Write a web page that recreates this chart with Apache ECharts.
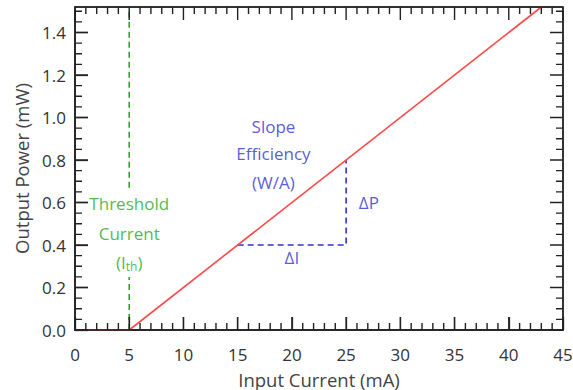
<!DOCTYPE html>
<html><head><meta charset="utf-8">
<script src="https://cdn.jsdelivr.net/npm/echarts@6/dist/echarts.min.js"></script>
<style>html,body{margin:0;padding:0;background:#fff}#c{width:573px;height:390px}</style>
</head><body><div id="c"></div>
<script>
// Data
const curveX = [0, 5, 43];
const curveY = [0, 0, 1.52];
const thresholdX = 5;
const thresholdLowY = [0, 0.25];
const thresholdHighY = [0.67, 1.52];
const deltaX = [15, 25, 25];
const deltaY = [0.4, 0.4, 0.8];
const xTicks = [0, 45, 5];      // min, max, major interval
const yTicks = [0, 1.52, 0.2];
const xMinorStep = 1;
const yMinorStep = 0.05;

const FONT = 'Open Sans';
const FS = 17;
const W = 573, H = 390;
const G = {left: 75, right: 10, top: 7, bottom: 60};
const chart = echarts.init(document.getElementById('c'), null, {renderer: 'svg'});
const green = '#22a822', blue = '#3030d0', red = '#ff4a4a', axisCol = '#333';

// tick lengths: pixels converted to axis units via the grid size
const plotW = W - G.left - G.right, plotH = H - G.top - G.bottom;
const uPerPxX = (xTicks[1] - xTicks[0]) / plotW;
const uPerPxY = (yTicks[1] - yTicks[0]) / plotH;
const MAJ = 13, MIN = 7;
const isMajor = (v, step) => Math.abs(v / step - Math.round(v / step)) < 1e-6;

// one short segment per tick, separated by gaps
function xTickPath(edgeY, dir) {
  const pts = [];
  for (let i = 0; i * xMinorStep <= xTicks[1] + 1e-9; i++) {
    const v = +(i * xMinorStep).toFixed(4);
    const L = (isMajor(v, xTicks[2]) ? MAJ : MIN) * uPerPxY * dir;
    pts.push([v, edgeY], [v, edgeY + L], [v, edgeY]);
  }
  return pts;
}
function yTickPath(edgeX, dir) {
  const pts = [];
  for (let i = 0; i * yMinorStep <= yTicks[1] + 1e-9; i++) {
    const v = +(i * yMinorStep).toFixed(4);
    const L = (isMajor(v, yTicks[2]) ? MAJ : MIN) * uPerPxX * dir;
    pts.push([edgeX, v], [edgeX + L, v], [edgeX, v]);
  }
  return pts;
}
const tickSeries = [
  xTickPath(yTicks[0], 1), xTickPath(yTicks[1], -1),
  yTickPath(xTicks[0], 1), yTickPath(xTicks[1], -1)
].map(d => ({type: 'line', data: d, symbol: 'none', showSymbol: false, clip: false, z: 6,
  sampling: null, lineStyle: {color: '#222', width: 1.4, opacity: 1}}));

const labelsSeries = [
  {value: [5, 0.595], text: 'Threshold', color: green},
  {value: [5, 0.455], text: 'Current', color: green},
  {value: [5, 0.32], text: '{p|(I}{s|th}{p|)}', color: green},
  {value: [18.3, 0.96], text: 'Slope', color: blue},
  {value: [18.3, 0.83], text: 'Efficiency', color: blue},
  {value: [18.3, 0.695], text: '(W/A)', color: blue},
  {value: [27.1, 0.6], text: 'ΔP', color: blue},
  {value: [20, 0.34], text: 'ΔI', color: blue}
];
chart.setOption({
  animation: false,
  grid: Object.assign({outerBoundsMode: 'none', containLabel: false,
         show: true, borderColor: axisCol, borderWidth: 1.5, backgroundColor: 'transparent'}, G),
  xAxis: {
    type: 'value', min: xTicks[0], max: xTicks[1], interval: xTicks[2],
    axisLine: {show: true, lineStyle: {color: axisCol, width: 1.5}},
    axisTick: {show: true, inside: true, length: MAJ, lineStyle: {color: axisCol, width: 1.3}},
    minorTick: {show: false}, splitLine: {show: false},
    name: 'Input Current (mA)', nameLocation: 'middle', nameGap: 40,
    nameTextStyle: {fontFamily: FONT, fontSize: 18.5, color: '#444'},
    axisLabel: {fontFamily: FONT, fontSize: FS, color: '#333', margin: 16}
  },
  yAxis: {
    type: 'value', min: yTicks[0], max: yTicks[1], interval: yTicks[2],
    axisLine: {show: true, lineStyle: {color: axisCol, width: 1.5}},
    axisTick: {show: true, inside: true, length: MAJ, lineStyle: {color: axisCol, width: 1.3}},
    minorTick: {show: false}, splitLine: {show: false},
    name: 'Output Power (mW)', nameLocation: 'middle', nameGap: 44,
    nameTextStyle: {fontFamily: FONT, fontSize: 18.5, color: '#444'},
    axisLabel: {fontFamily: FONT, fontSize: FS, color: '#333', margin: 9,
      showMaxLabel: false, formatter: v => v.toFixed(1)}
  },
  series: tickSeries.concat([
    {type: 'line', data: curveX.map((x, i) => [x, curveY[i]]), symbol: 'none',
     lineStyle: {color: red, width: 1.6}, z: 5},
    {type: 'line', data: thresholdLowY.map(y => [thresholdX, y]), symbol: 'none',
     lineStyle: {color: green, width: 1.6, type: [6, 4]}},
    {type: 'line', data: thresholdHighY.map(y => [thresholdX, y]), symbol: 'none',
     lineStyle: {color: green, width: 1.6, type: [6, 4]}},
    {type: 'line', data: deltaX.map((x, i) => [x, deltaY[i]]), symbol: 'none',
     lineStyle: {color: blue, width: 1.6, type: [6, 4]}},
    {type: 'scatter', symbolSize: 0, silent: true,
     data: labelsSeries.map(d => ({value: d.value, label: {
       show: true, position: 'inside', formatter: d.text, color: d.color,
       fontFamily: FONT, fontSize: FS,
       rich: {p: {fontFamily: FONT, fontSize: FS, color: d.color}, s: {fontFamily: FONT, fontSize: 12, color: d.color, verticalAlign: 'bottom', padding: [8, 0, 0, 0]}}
     }}))}
  ])
});
</script></body></html>
